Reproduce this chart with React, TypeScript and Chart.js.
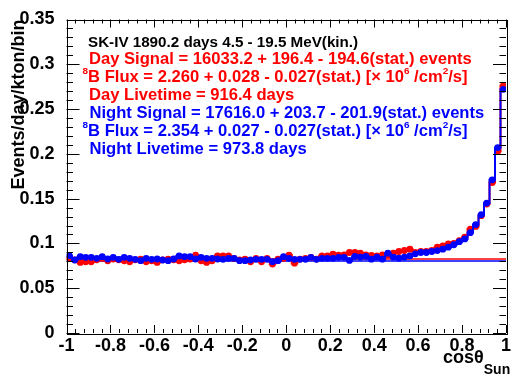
import React, { useEffect, useRef } from "react";
import { Chart, registerables } from "chart.js";

Chart.register(...registerables);

// ---- data ----
const BIN_LOW = -1;
const BIN_WIDTH = 0.025;

// Day (red) events/day/kton/bin, 80 bins in cos(theta_sun)
const dayValues = [
  0.0833, 0.0817, 0.0788, 0.0795, 0.0795, 0.0817, 0.0833, 0.0806, 0.0825, 0.0817,
  0.0806, 0.0795, 0.0817, 0.0825, 0.0795, 0.0806, 0.0788, 0.0817, 0.0825, 0.0817,
  0.0806, 0.0817, 0.0825, 0.087, 0.0806, 0.0788, 0.0806, 0.0862, 0.0862, 0.0862,
  0.0833, 0.0817, 0.0825, 0.0795, 0.0833, 0.0795, 0.0833, 0.0769, 0.0825, 0.0833,
  0.087, 0.078, 0.0825, 0.0833, 0.0844, 0.0825, 0.0862, 0.0862, 0.0881, 0.087,
  0.0872, 0.0899, 0.0899, 0.0891, 0.0872, 0.0865, 0.0861, 0.0872, 0.0872, 0.0891,
  0.091, 0.0921, 0.0936, 0.0899, 0.091, 0.091, 0.0921, 0.0958, 0.0973, 0.0996,
  0.1, 0.103, 0.107, 0.116, 0.119, 0.131, 0.144, 0.168, 0.203, 0.276,
];

// Night (blue)
const nightValues = [
  0.0863, 0.0815, 0.0852, 0.0845, 0.0845, 0.0834, 0.0852, 0.0826, 0.0845, 0.0823,
  0.0845, 0.0834, 0.0823, 0.0807, 0.0834, 0.0823, 0.0826, 0.0815, 0.0807, 0.0826,
  0.086, 0.0852, 0.0852, 0.0826, 0.0845, 0.0834, 0.0834, 0.0826, 0.0823, 0.0834,
  0.0834, 0.0807, 0.0807, 0.0815, 0.0823, 0.0823, 0.0823, 0.0796, 0.0807, 0.0852,
  0.0834, 0.0823, 0.0823, 0.0823, 0.0845, 0.0823, 0.0834, 0.0834, 0.0834, 0.0845,
  0.0845, 0.081, 0.0854, 0.0847, 0.0854, 0.0824, 0.0847, 0.0824, 0.0891, 0.0847,
  0.0835, 0.0847, 0.0861, 0.0884, 0.0899, 0.0899, 0.091, 0.092, 0.0936, 0.0958,
  0.0985, 0.102, 0.105, 0.112, 0.121, 0.132, 0.145, 0.171, 0.207, 0.272,
];

const dayBackground = 0.0826;
const nightBackground = 0.0805;

const xTickValues = [-1, -0.8, -0.6, -0.4, -0.2, 0, 0.2, 0.4, 0.6, 0.8, 1];
const xTickLabels = ["-1", "-0.8", "-0.6", "-0.4", "-0.2", "0", "0.2", "0.4", "0.6", "0.8", "1"];
const yTickValues = [0, 0.05, 0.1, 0.15, 0.2, 0.25, 0.3, 0.35];
const yTickLabels = ["0", "0.05", "0.1", "0.15", "0.2", "0.25", "0.3", "0.35"];

const yTitle = "Events/day/kton/bin";
const xTitleMain = "cosθ";
const xTitleSub = "Sun";

type Seg = { t: string; sup?: boolean };
const headerLine: Seg[] = [{ t: "SK-IV 1890.2 days 4.5 - 19.5 MeV(kin.)" }];
const dayLines: Seg[][] = [
  [{ t: "Day Signal = 16033.2 + 196.4 - 194.6(stat.) events" }],
  [{ t: "8", sup: true }, { t: "B Flux = 2.260 + 0.028 - 0.027(stat.) [× 10" }, { t: "6", sup: true }, { t: " /cm" }, { t: "2", sup: true }, { t: "/s]" }],
  [{ t: "Day Livetime = 916.4 days" }],
];
const nightLines: Seg[][] = [
  [{ t: "Night Signal = 17616.0 + 203.7 - 201.9(stat.) events" }],
  [{ t: "8", sup: true }, { t: "B Flux = 2.354 + 0.027 - 0.027(stat.) [× 10" }, { t: "6", sup: true }, { t: " /cm" }, { t: "2", sup: true }, { t: "/s]" }],
  [{ t: "Night Livetime = 973.8 days" }],
];

// ---- style ----
const FONT = '"Liberation Sans", Arial, Helvetica, sans-serif';
const RED = "#ff0000";
const BLUE = "#0000ff";

function drawRich(ctx: CanvasRenderingContext2D, x: number, y: number, segs: Seg[], size: number, color: string, startSup: number) {
  ctx.fillStyle = color;
  ctx.textBaseline = "alphabetic";
  ctx.textAlign = "left";
  let cx = segs[0].sup ? startSup : x;
  for (const s of segs) {
    if (s.sup) {
      const ss = size * 0.6;
      ctx.font = `bold ${ss}px ${FONT}`;
      ctx.fillText(s.t, cx, y - size * 0.48);
      cx += ctx.measureText(s.t).width;
    } else {
      ctx.font = `bold ${size}px ${FONT}`;
      ctx.fillText(s.t, cx, y);
      cx += ctx.measureText(s.t).width;
    }
  }
}

const framePlugin = {
  id: "rootFrame",
  afterDraw(chart: any) {
    const { ctx, chartArea, scales } = chart;
    const { left, right, top, bottom } = chartArea;
    const xs = scales.x;
    const ys = scales.y;
    ctx.save();
    ctx.strokeStyle = "#000";
    ctx.lineWidth = 1;
    ctx.strokeRect(Math.round(left) + 0.5, Math.round(top) + 0.5, Math.round(right - left), Math.round(bottom - top));
    ctx.beginPath();
    const xMajor = xTickValues[1] - xTickValues[0];
    const nX = Math.round((xTickValues[xTickValues.length - 1] - xTickValues[0]) / (xMajor / 5));
    for (let i = 0; i <= nX; i++) {
      const v = xTickValues[0] + (i * xMajor) / 5;
      const px = Math.round(xs.getPixelForValue(v)) + 0.5;
      const len = i % 5 === 0 ? 8 : 4;
      ctx.moveTo(px, bottom);
      ctx.lineTo(px, bottom - len);
      ctx.moveTo(px, top);
      ctx.lineTo(px, top + len);
    }
    const yMajor = yTickValues[1] - yTickValues[0];
    const nY = Math.round((yTickValues[yTickValues.length - 1] - yTickValues[0]) / (yMajor / 5));
    for (let i = 0; i <= nY; i++) {
      const v = yTickValues[0] + (i * yMajor) / 5;
      const py = Math.round(ys.getPixelForValue(v)) + 0.5;
      const len = i % 5 === 0 ? 13 : 6.5;
      ctx.moveTo(left, py);
      ctx.lineTo(left + len, py);
      ctx.moveTo(right, py);
      ctx.lineTo(right - len, py);
    }
    ctx.stroke();

    // text box
    const step = 17.95;
    let base = 46.5;
    drawRich(ctx, 88, base, headerLine, 15.2, "#000", 82.5);
    base += step;
    for (const l of dayLines) {
      drawRich(ctx, 89, base, l, 16.6, RED, 82.5);
      base += step;
    }
    for (const l of nightLines) {
      drawRich(ctx, 89.5, base, l, 16.6, BLUE, 82.5);
      base += step;
    }

    // x title
    ctx.fillStyle = "#000";
    ctx.textAlign = "left";
    ctx.textBaseline = "alphabetic";
    ctx.font = `bold 18px ${FONT}`;
    const tx = 443;
    ctx.fillText(xTitleMain, tx, 363);
    const w = ctx.measureText(xTitleMain).width;
    ctx.font = `bold 14px ${FONT}`;
    ctx.fillText(xTitleSub, tx + w, 374);
    ctx.restore();
  },
};

export default function App() {
  const ref = useRef<HTMLCanvasElement | null>(null);
  useEffect(() => {
    if (!ref.current) return;
    const centers = dayValues.map((_, i) => BIN_LOW + BIN_WIDTH * (i + 0.5));
    const dayPts = centers.map((x, i) => ({ x, y: dayValues[i] }));
    const nightPts = centers.map((x, i) => ({ x, y: nightValues[i] }));
    const tickFont = { family: FONT, size: 18, weight: "bold" as const };
    const chart = new Chart(ref.current, {
      type: "line",
      data: {
        datasets: [
          { label: "Night", data: nightPts, showLine: false, pointRadius: 3.4, pointBackgroundColor: BLUE, pointBorderWidth: 0, borderColor: BLUE, order: 0 },
          { label: "Night hist", data: nightPts, stepped: "middle", borderColor: BLUE, borderWidth: 2, pointRadius: 0, order: 1 },
          { label: "Day", data: dayPts, showLine: false, pointRadius: 3.4, pointBackgroundColor: RED, pointBorderWidth: 0, borderColor: RED, order: 2 },
          { label: "Day hist", data: dayPts, stepped: "middle", borderColor: RED, borderWidth: 2, pointRadius: 0, order: 3 },
          { label: "Night bg", data: [{ x: -1, y: nightBackground }, { x: 1, y: nightBackground }], borderColor: BLUE, borderWidth: 1.5, pointRadius: 0, order: 4 },
          { label: "Day bg", data: [{ x: -1, y: dayBackground }, { x: 1, y: dayBackground }], borderColor: RED, borderWidth: 1.5, pointRadius: 0, order: 5 },
        ] as any,
      },
      options: {
        animation: false,
        responsive: false,
        devicePixelRatio: 1,
        layout: { padding: { left: 0, top: 19.5, right: 6, bottom: 0 } },
        plugins: { legend: { display: false }, tooltip: { enabled: false } },
        scales: {
          x: {
            type: "linear",
            min: -1,
            max: 1,
            grid: { display: false },
            border: { display: false },
            afterBuildTicks: (s: any) => {
              s.ticks = xTickValues.map((v) => ({ value: v }));
            },
            afterFit: (s: any) => {
              s.height = 41;
            },
            ticks: {
              autoSkip: false,
              maxRotation: 0,
              padding: -6,
              color: "#000",
              font: tickFont,
              callback: (_v: any, i: number) => xTickLabels[i],
            },
          },
          y: {
            type: "linear",
            min: 0,
            max: 0.35,
            grid: { display: false },
            border: { display: false },
            afterBuildTicks: (s: any) => {
              s.ticks = yTickValues.map((v) => ({ value: v }));
            },
            afterFit: (s: any) => {
              s.width = 66.5;
            },
            ticks: {
              autoSkip: false,
              padding: 4,
              color: "#000",
              font: tickFont,
              callback: (_v: any, i: number) => yTickLabels[i],
            },
            title: {
              display: true,
              text: yTitle,
              align: "end",
              color: "#000",
              padding: { top: 8, bottom: 0 },
              font: { family: FONT, size: 18, weight: "bold" },
            },
          },
        },
      } as any,
      plugins: [framePlugin],
    });
    return () => chart.destroy();
  }, []);
  return (
    <div style={{ position: "absolute", left: 0, top: 0, width: 512, height: 374, background: "#fff" }}>
      <canvas ref={ref} width={512} height={374} />
    </div>
  );
}
